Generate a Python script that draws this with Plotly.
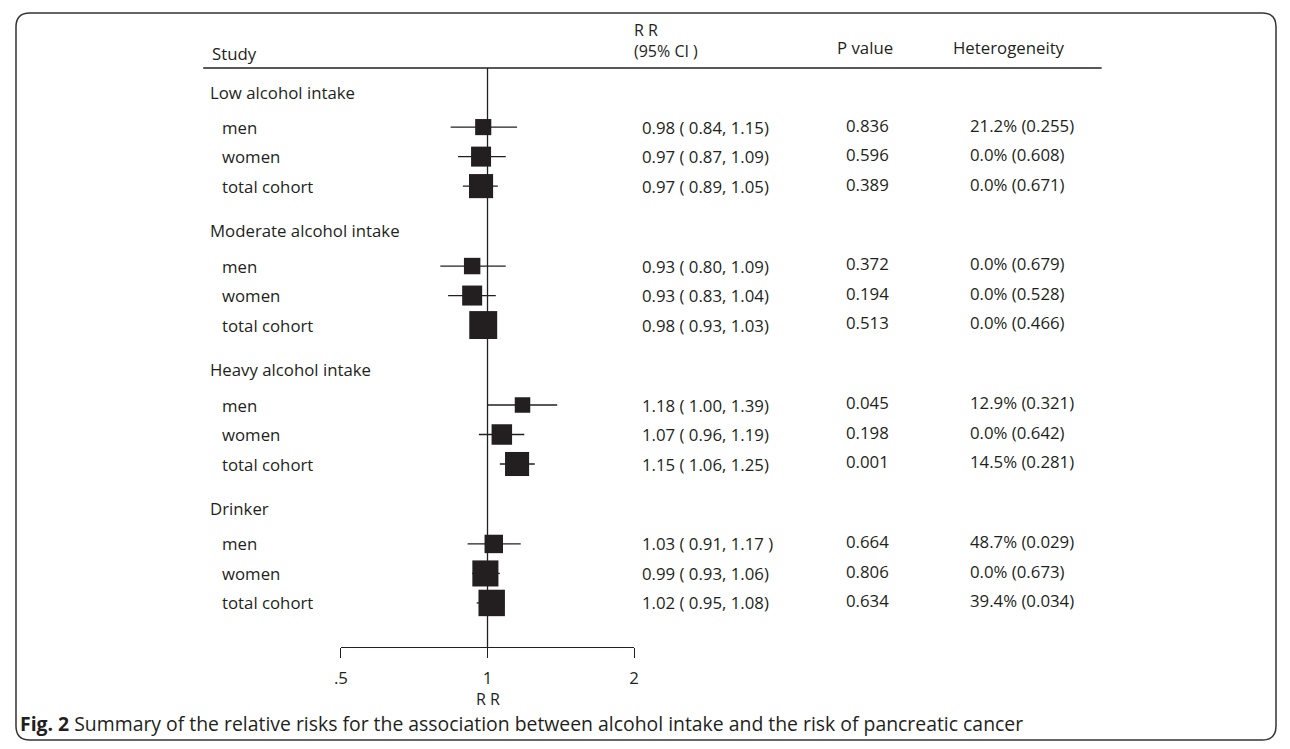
import math
import plotly.graph_objects as go

# ---------------- data ----------------
groups = ["Low alcohol intake", "Moderate alcohol intake", "Heavy alcohol intake", "Drinker"]
subgroups = ["men", "women", "total cohort"]

rr = [0.98, 0.97, 0.97, 0.93, 0.93, 0.98, 1.18, 1.07, 1.15, 1.03, 0.99, 1.02]
ci_low = [0.84, 0.87, 0.89, 0.80, 0.83, 0.93, 1.00, 0.96, 1.06, 0.91, 0.93, 0.95]
ci_high = [1.15, 1.09, 1.05, 1.09, 1.04, 1.03, 1.39, 1.19, 1.25, 1.17, 1.06, 1.08]
ci_labels = ["0.98 ( 0.84, 1.15)", "0.97 ( 0.87, 1.09)", "0.97 ( 0.89, 1.05)",
             "0.93 ( 0.80, 1.09)", "0.93 ( 0.83, 1.04)", "0.98 ( 0.93, 1.03)",
             "1.18 ( 1.00, 1.39)", "1.07 ( 0.96, 1.19)", "1.15 ( 1.06, 1.25)",
             "1.03 ( 0.91, 1.17 )", "0.99 ( 0.93, 1.06)", "1.02 ( 0.95, 1.08)"]
p_values = ["0.836", "0.596", "0.389", "0.372", "0.194", "0.513",
            "0.045", "0.198", "0.001", "0.664", "0.806", "0.634"]
heterogeneity = ["21.2% (0.255)", "0.0% (0.608)", "0.0% (0.671)",
                 "0.0% (0.679)", "0.0% (0.528)", "0.0% (0.466)",
                 "12.9% (0.321)", "0.0% (0.642)", "14.5% (0.281)",
                 "48.7% (0.029)", "0.0% (0.673)", "39.4% (0.034)"]
# relative study weights (box area is proportional to weight)
weights = [2.6, 4.0, 5.8, 2.7, 4.0, 7.8, 2.4, 4.2, 5.8, 3.4, 6.8, 7.0]

tick_values = [0.5, 1, 2]
tick_labels = [".5", "1", "2"]
axis_title = "R R"
col_headers = ["Study", "R R<br>(95% CI )", "P value", "Heterogeneity"]
caption_bold = "Fig. 2"
caption_text = "Summary of the relative risks for the association between alcohol intake and the risk of pancreatic cancer"

# ---------------- layout helpers ----------------
PAGE_W, PAGE_H = 1290, 749
OFF = 8                                  # default page margin around the figure
W, H = PAGE_W - 2 * OFF, PAGE_H - 2 * OFF
ROW_PX = 29.5                            # pixels per row unit
FIRST_PX = 92                            # page pixel of the first group header
HEAD_GAP, GROUP_GAP = 1.19, 1.52
INK = "#231f20"
FONT = "Open Sans"
FS = 16.8


def yv(page_px):
    return (page_px - FIRST_PX) / ROW_PX


def xp(page_px):
    return (page_px - OFF) / W


def yp(page_px):
    return 1 - (page_px - OFF) / H


group_y, row_y = [], []
for g in range(len(groups)):
    gy = g * (HEAD_GAP + (len(subgroups) - 1) + GROUP_GAP)
    group_y.append(gy)
    for i in range(len(subgroups)):
        row_y.append(gy + HEAD_GAP + i)

row_names = [s for _ in groups for s in subgroups]

fig = go.Figure()
fig.add_trace(go.Scatter(
    x=rr, y=row_y, mode="markers",
    marker=dict(symbol="square", size=[10 * math.sqrt(w) for w in weights],
                color=INK, opacity=1, line=dict(width=0)),
    error_x=dict(type="data", symmetric=False,
                 array=[h - r for h, r in zip(ci_high, rr)],
                 arrayminus=[r - l for r, l in zip(rr, ci_low)],
                 color=INK, thickness=1.3, width=0),
    cliponaxis=False, hoverinfo="skip", showlegend=False,
))

ann = []


def txt(x, y, text, size=FS, anchor="left", yref="y", xref="paper"):
    ann.append(dict(x=xp(x) if xref == "paper" else x, xref=xref,
                    y=y, yref=yref, text=text, align="left",
                    showarrow=False, xanchor=anchor, yanchor="middle",
                    font=dict(family=FONT, size=size, color=INK)))


# headers
txt(205, yv(53), col_headers[0])
txt(631, yv(40), col_headers[1], size=16)
txt(866, yv(47), col_headers[2], anchor="center")
txt(953, yv(47), col_headers[3])

for g, name in enumerate(groups):
    txt(203, group_y[g], name)
for k, y in enumerate(row_y):
    txt(215, y, row_names[k])
    txt(639, y, ci_labels[k])
    txt(845, y - 0.07, p_values[k])
    txt(970, y - 0.07, heterogeneity[k])

# axis title under the RR = 1 tick (log axis -> annotation x in log10 units)
txt(math.log10(1), yv(698.5), axis_title, size=16, anchor="center", xref="x")

# caption
ann.append(dict(x=xp(11), xref="paper", y=yp(723), yref="paper",
                text="<b>" + caption_bold + "</b> " + caption_text,
                showarrow=False, xanchor="left", yanchor="middle",
                font=dict(family=FONT, size=19.4, color=INK)))

shapes = []
# header rule
shapes.append(dict(type="line", xref="paper", yref="y", x0=xp(198), x1=xp(1105),
                   y0=yv(68), y1=yv(68), line=dict(color=INK, width=1.5)))
# null line at RR = 1
shapes.append(dict(type="line", xref="x", yref="y", x0=1, x1=1,
                   y0=yv(68), y1=yv(647), line=dict(color=INK, width=1.3), layer="below"))
# rounded frame
x0, x1 = xp(9), xp(1281)
yt, yb = yp(13), yp(740)
rx, ry = 14 / W, 14 / H
path = (f"M {x0+rx},{yt} L {x1-rx},{yt} Q {x1},{yt} {x1},{yt-ry} "
        f"L {x1},{yb+ry} Q {x1},{yb} {x1-rx},{yb} L {x0+rx},{yb} "
        f"Q {x0},{yb} {x0},{yb+ry} L {x0},{yt-ry} Q {x0},{yt} {x0+rx},{yt} Z")
shapes.append(dict(type="path", xref="paper", yref="paper", path=path,
                   line=dict(color="#333333", width=1.5)))

fig.update_layout(
    width=W, height=H, margin=dict(l=0, r=0, t=0, b=0),
    paper_bgcolor="white", plot_bgcolor="white",
    annotations=ann, shapes=shapes, showlegend=False,
    xaxis=dict(type="log", domain=[xp(337), xp(633)],
               range=[math.log10(tick_values[0]), math.log10(tick_values[-1])],
               anchor="free", position=yp(647),
               showline=True, linecolor=INK, linewidth=1.3,
               ticks="outside", ticklen=10, tickwidth=1.3, tickcolor=INK,
               tickvals=tick_values, ticktext=tick_labels,
               ticklabelstandoff=6,
               tickfont=dict(family=FONT, size=FS, color=INK),
               showgrid=False, zeroline=False),
    yaxis=dict(range=[yv(PAGE_H - OFF), yv(OFF)], domain=[0, 1], visible=False,
               showgrid=False, zeroline=False),
)

fig.write_html("out.html")
